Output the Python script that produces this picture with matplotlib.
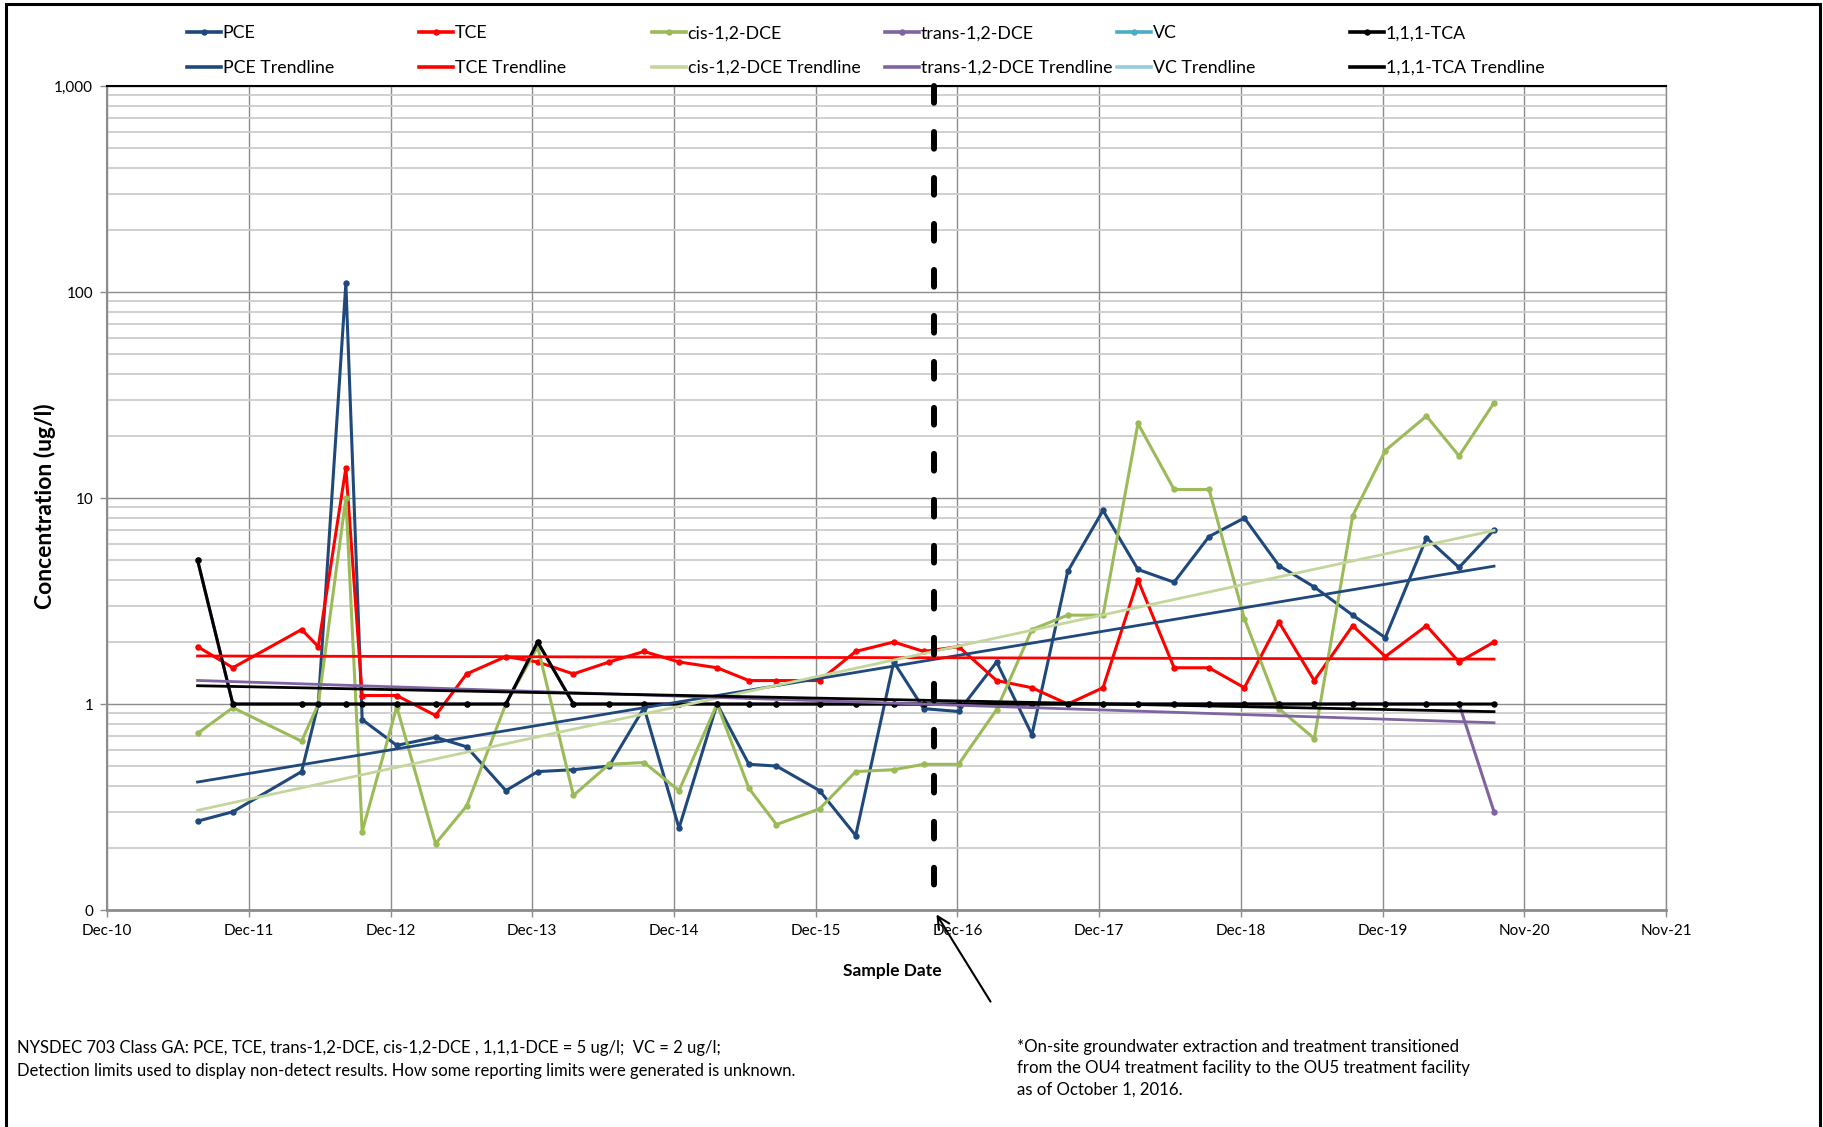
import numpy as np
import matplotlib
matplotlib.use("Agg")
import matplotlib.pyplot as plt
import matplotlib.dates as mdates
from matplotlib.lines import Line2D
from matplotlib.patches import Rectangle
from matplotlib.ticker import FuncFormatter, LogLocator, NullFormatter

plt.rcParams['font.family'] = ['Lato', 'DejaVu Sans']

# ----- Data (ug/l) -----

sample_dates = [
    "2011-07-24", "2011-10-23", "2012-04-17", "2012-05-30", "2012-08-09",
    "2012-09-20", "2012-12-18", "2013-03-28", "2013-06-16", "2013-09-25",
    "2013-12-16", "2014-03-18", "2014-06-18", "2014-09-16", "2014-12-15",
    "2015-03-23", "2015-06-13", "2015-08-23", "2015-12-12", "2016-03-14",
    "2016-06-20", "2016-09-05", "2016-12-04", "2017-03-12", "2017-06-11",
    "2017-09-11", "2017-12-11", "2018-03-11", "2018-06-12", "2018-09-10",
    "2018-12-10", "2019-03-09", "2019-06-08", "2019-09-15", "2019-12-08",
    "2020-03-23", "2020-06-15", "2020-09-13",
]

pce = [0.27, 0.30, 0.47, 1.0, 110, 0.84, 0.63, 0.69, 0.62, 0.38,
       0.47, 0.48, 0.50, 0.96, 0.25, 1.0, 0.51, 0.50, 0.38, 0.23,
       1.6, 0.95, 0.92, 1.6, 0.71, 4.4, 8.7, 4.5, 3.9, 6.5,
       8.0, 4.7, 3.7, 2.7, 2.1, 6.4, 4.6, 7.0]

tce = [1.9, 1.5, 2.3, 1.9, 14, 1.1, 1.1, 0.88, 1.4, 1.7,
       1.6, 1.4, 1.6, 1.8, 1.6, 1.5, 1.3, 1.3, 1.3, 1.8,
       2.0, 1.8, 1.9, 1.3, 1.2, 1.0, 1.2, 4.0, 1.5, 1.5,
       1.2, 2.5, 1.3, 2.4, 1.7, 2.4, 1.6, 2.0]

cis_dce = [0.72, 0.96, 0.66, 1.0, 10, 0.24, 0.97, 0.21, 0.32, 1.0,
           1.9, 0.36, 0.51, 0.52, 0.38, 1.0, 0.39, 0.26, 0.31, 0.47,
           0.48, 0.51, 0.51, 0.94, 2.3, 2.7, 2.7, 23, 11, 11,
           2.6, 0.95, 0.68, 8.2, 17, 25, 16, 29]

trans_dce = [5, 1, 1, 1, 1, 1, 1, 1, 1, 1,
             2, 1, 1, 1, 1, 1, 1, 1, 1, 1,
             1, 1, 1, 1, 1, 1, 1, 1, 1, 1,
             1, 1, 1, 1, 1, 1, 1, 0.3]

vc = []  # no results plotted

tca = [5, 1, 1, 1, 1, 1, 1, 1, 1, 1,
       2, 1, 1, 1, 1, 1, 1, 1, 1, 1,
       1, 1, 1, 1, 1, 1, 1, 1, 1, 1,
       1, 1, 1, 1, 1, 1, 1, 1]

series_names = ["PCE", "TCE", "cis-1,2-DCE", "trans-1,2-DCE", "VC", "1,1,1-TCA"]
series_values = [pce, tce, cis_dce, trans_dce, vc, tca]
line_colors = ["#1F497D", "#FF0000", "#9BBB59", "#8064A2", "#4BACC6", "#000000"]
trend_colors = ["#1F497D", "#FF0000", "#C3D69B", "#8064A2", "#93CDDD", "#000000"]

axis_start = "2010-12-03"
tick_step_days = 365
n_ticks = 12
transition_date = "2016-10-01"

# ----- Helpers -----

def exp_trend(x, y):
    # Excel style exponential trendline: ln(y) = a + b*x
    b, a = np.polyfit(x, np.log(y), 1)
    xs = np.array([x[0], x[-1]])
    return xs, np.exp(a + b * xs)

# ----- Figure -----

fig = plt.figure(figsize=(18.24, 11.27), dpi=100)
ax = fig.add_axes([0.0587, 0.1925, 0.8547, 0.7312])

dates = mdates.datestr2num(sample_dates)

for vals, col in zip(series_values, line_colors):
    if len(vals) == 0:
        continue
    ax.plot(dates, vals, color=col, lw=2.2, marker='o', ms=3.6, zorder=3)

for vals, col in zip(series_values, trend_colors):
    if len(vals) == 0:
        continue
    tx, ty = exp_trend(dates, np.array(vals, dtype=float))
    ax.plot(tx, ty, color=col, lw=2.0, zorder=4)

# transition marker
t0 = mdates.datestr2num(transition_date)
ax.plot([t0, t0], [1000, 0.118], color='black', lw=4.3, dashes=(2.8, 4.9),
        dash_capstyle='round', zorder=6, clip_on=False)

# axes
ax.set_yscale('log')
ax.set_ylim(0.1, 1000)
x0 = mdates.datestr2num(axis_start)
xticks = x0 + np.arange(n_ticks) * tick_step_days
ax.set_xlim(xticks[0], xticks[-1])
ax.set_xticks(xticks)
ax.xaxis.set_major_formatter(mdates.DateFormatter('%b-%y'))
ax.yaxis.set_major_locator(LogLocator(base=10))
ax.yaxis.set_major_formatter(FuncFormatter(lambda v, p: f"{v:,.0f}"))
ax.yaxis.set_minor_locator(LogLocator(base=10, subs=range(2, 10)))
ax.yaxis.set_minor_formatter(NullFormatter())

ax.set_axisbelow(True)
ax.grid(which='major', color='#8C8C8C', lw=1.0)
ax.grid(which='minor', axis='y', color='#CDCDCD', lw=1.3)
ax.tick_params(which='minor', length=0)
ax.tick_params(which='major', length=5, width=1, color='#8C8C8C', labelsize=11, pad=5)

for side in ['left', 'bottom', 'right']:
    ax.spines[side].set_color('#8C8C8C')
ax.spines['left'].set_linewidth(1.5)
ax.spines['bottom'].set_linewidth(2.0)
ax.spines['right'].set_linewidth(1.0)
ax.spines['top'].set_color('black')
ax.spines['top'].set_linewidth(1.5)

ax.set_ylabel("Concentration (ug/l)", fontsize=16.5, fontweight='bold')
ax.yaxis.set_label_coords(-0.033, 0.49)
ax.set_xlabel("Sample Date", fontsize=12.5, fontweight='bold')
ax.xaxis.set_label_coords(0.5035, -0.064)

# ----- Legend: six columns of two rows -----

col_px = [187, 419, 652, 885, 1117, 1350]
for name, col, tcol, xp in zip(series_names, line_colors, trend_colors, col_px):
    h_data = Line2D([], [], color=col, lw=2.6, marker='o', ms=3.6)
    h_trend = Line2D([], [], color=tcol, lw=2.6)
    fig.legend(handles=[h_data, h_trend], labels=[name, name + " Trendline"],
               loc='center left', bbox_to_anchor=(xp / 1824, 1 - 50.5 / 1127),
               frameon=False, borderpad=0, borderaxespad=0, handlelength=1.9,
               handletextpad=0.1, labelspacing=1.05, fontsize=12.8)

# ----- Notes -----

fig.text(17 / 1824, 1 - 1048 / 1127,
         "NYSDEC 703 Class GA: PCE, TCE, trans-1,2-DCE, cis-1,2-DCE , 1,1,1-DCE = 5 ug/l;  VC = 2 ug/l;",
         fontsize=12.0, va='center')
fig.text(17 / 1824, 1 - 1071 / 1127,
         "Detection limits used to display non-detect results. How some reporting limits were generated is unknown.",
         fontsize=12.0, va='center')
note = ("*On-site groundwater extraction and treatment transitioned\n"
        "from the OU4 treatment facility to the OU5 treatment facility\n"
        "as of October 1, 2016.")
fig.text(1017 / 1824, 1 - 1039 / 1127, note, fontsize=12.1, va='top', linespacing=1.4)

ax.annotate('', xy=(935 / 1824, 1 - 912 / 1127), xytext=(992 / 1824, 1 - 1004 / 1127),
            xycoords='figure fraction', textcoords='figure fraction',
            arrowprops=dict(arrowstyle='->', lw=1.5, color='black', mutation_scale=22))

# chart border
fig.add_artist(Rectangle((6 / 1824, -0.01), (1820 - 6) / 1824, 1.01 - 4 / 1127,
                         transform=fig.transFigure, fill=False, lw=2.2, ec='black'))

fig.savefig("out.png", dpi=100)
